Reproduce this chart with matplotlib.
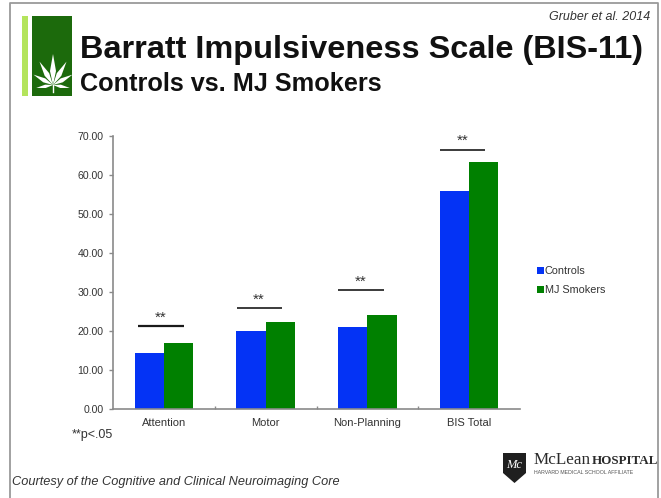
import numpy as np
import matplotlib
matplotlib.use("Agg")
import matplotlib.pyplot as plt
from matplotlib.patches import Rectangle, Polygon

categories = ["Attention", "Motor", "Non-Planning", "BIS Total"]
controls = [14.4, 19.9, 20.9, 55.8]
smokers = [16.8, 22.3, 24.0, 63.3]
sig_levels = [21.3, 25.9, 30.5, 66.5]
yticks = [0, 10, 20, 30, 40, 50, 60, 70]

W, H = 661, 498
BLUE = "#0433f5"
GREEN = "#008000"
GREY = "#8a8a8a"
plt.rcParams["font.family"] = ["Liberation Sans", "DejaVu Sans"]

fig = plt.figure(figsize=(W / 100, H / 100), dpi=100, facecolor="white")

# overlay in pixel coordinates
ov = fig.add_axes([0, 0, 1, 1], zorder=0)
ov.set_xlim(0, W)
ov.set_ylim(H, 0)
ov.axis("off")

# slide frame
ov.plot([10, 10, 658, 658], [498, 3, 3, 498], color="#9a9a9a", lw=1.3)

# side bars
ov.add_patch(Rectangle((22, 16), 6, 80, color="#b4e45c", lw=0))
ov.add_patch(Rectangle((32, 16), 40, 80, color="#1c6a0c", lw=0))

# leaf
def leaflet(cx, cy, angle, length, width):
    t = np.radians(angle)
    d = np.array([np.sin(t), -np.cos(t)])
    n = np.array([d[1], -d[0]])
    b = np.array([cx, cy])
    pts = [b, b + d * length * .45 + n * width, b + d * length, b + d * length * .45 - n * width]
    ov.add_patch(Polygon(pts, color="white", lw=0))

for a, l, w in [(0, 31, 3.0), (30, 27, 2.6), (-30, 27, 2.6), (62, 22, 2.2), (-62, 22, 2.2),
                (100, 17, 1.7), (-100, 17, 1.7)]:
    leaflet(53, 85, a, l, w)
ov.plot([53, 53], [85, 92], color="white", lw=1)

# titles
ov.text(80, 50, "Barratt Impulsiveness Scale (BIS-11)", fontsize=23.4, fontweight="bold",
        color="#111111", va="center", ha="left")
ov.text(80, 84, "Controls vs. MJ Smokers", fontsize=18.2, fontweight="bold",
        color="#111111", va="center", ha="left")
ov.text(650, 17, "Gruber et al. 2014", fontsize=9, style="italic", color="#333333",
        va="center", ha="right")
ov.text(72, 435, "**p<.05", fontsize=9, color="#333333", va="center", ha="left")
ov.text(12, 482, "Courtesy of the Cognitive and Clinical Neuroimaging Core", fontsize=9.15,
        style="italic", color="#333333", va="center", ha="left")

# logo
ov.add_patch(Polygon([(503, 453), (526, 453), (526, 473), (514.5, 483), (503, 473)],
                     color="#1f1f1f", lw=0))
ov.text(514.5, 465, "Mc", fontsize=9, family="Liberation Serif", color="white", ha="center",
        va="center", style="italic")
ov.text(534, 460, "McLean", fontsize=12.3, family="Liberation Serif", color="#2a2a2a",
        va="center", ha="left")
ov.text(592, 461, "HOSPITAL", fontsize=9.4, family="Liberation Serif", fontweight="bold",
        color="#2a2a2a", va="center", ha="left")
ov.text(534, 472, "HARVARD MEDICAL SCHOOL AFFILIATE", fontsize=3.75, color="#555555",
        va="center", ha="left")

# chart
L, R, T, B = 113, 520, 136, 409
ax = fig.add_axes([L / W, 1 - B / H, (R - L) / W, (B - T) / H], zorder=1)
ax.patch.set_alpha(0)
x = np.arange(len(categories))
bw = 0.287
ax.bar(x - bw / 2, controls, bw, color=BLUE, label="Controls")
ax.bar(x + bw / 2, smokers, bw, color=GREEN, label="MJ Smokers")
ax.set_xlim(-0.5, 3.5)
ax.set_ylim(0, 70)
ax.set_yticks(yticks)
ax.set_yticklabels([f"{v:.2f}" for v in yticks], fontsize=7.6, color="#333333")
ax.set_xticks(np.arange(0.5, 3.5))
ax.set_xticklabels([])
ax.tick_params(axis="both", length=3, color=GREY, width=1, pad=4)
ax.tick_params(axis="x", direction="in", length=2)
ax.tick_params(axis="y", direction="out")
for s in ("top", "right"):
    ax.spines[s].set_visible(False)
for s in ("left", "bottom"):
    ax.spines[s].set_color(GREY)
    ax.spines[s].set_linewidth(1.2)
for i, c in enumerate(categories):
    ax.annotate(c, (i, 0), xycoords="data", xytext=(0, -14), textcoords="offset pixels",
                fontsize=8, color="#333333", ha="center", va="center")

# significance lines
for i, lv in enumerate(sig_levels):
    left = -0.25 if i == 0 else -0.285
    ax.plot([i + left, i + left + 0.445], [lv, lv], color="#1a1a1a", lw=1.2 if i else 1.6,
            clip_on=False, solid_capstyle="butt")
    ax.text(i + left + 0.22, lv + 0.4, "**", fontsize=11, color="#333333", ha="center", va="bottom")

# legend
ax.legend(loc="upper left", bbox_to_anchor=(537 / W, 1 - 266 / H), bbox_transform=fig.transFigure,
          frameon=False, fontsize=7.8, labelcolor="#333333", handlelength=0.6, handleheight=0.6,
          handletextpad=0.1, labelspacing=0.85, borderpad=0, borderaxespad=0)

fig.savefig("out.png", dpi=100, facecolor="white")
